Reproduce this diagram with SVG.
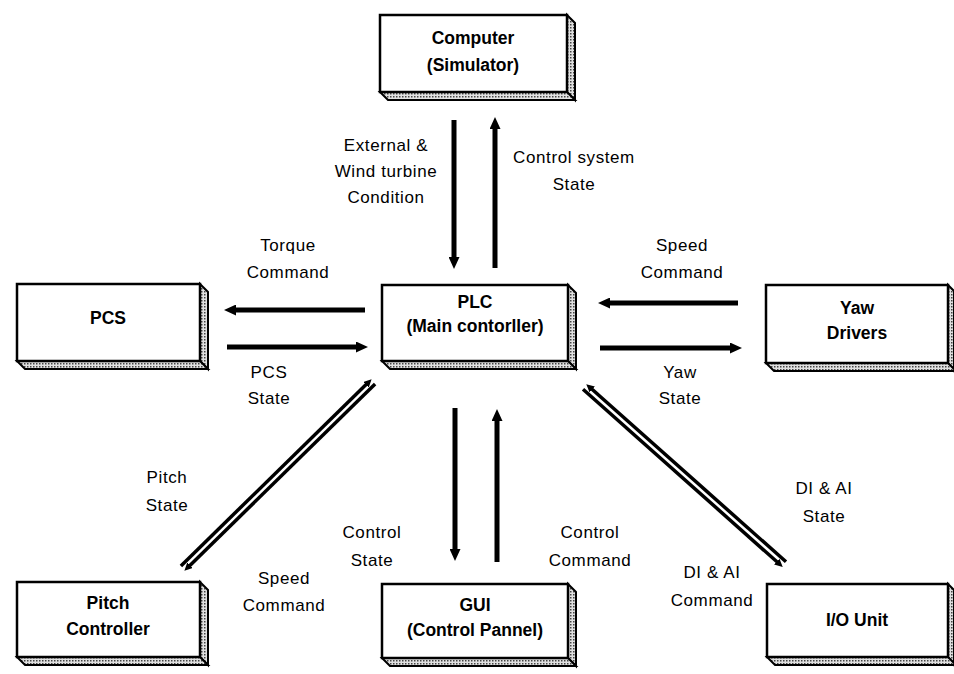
<svg xmlns="http://www.w3.org/2000/svg" width="954" height="674" viewBox="0 0 954 674">
<style>
.face{fill:#fff;stroke:#000;stroke-width:2.5}
.side{fill:url(#stip);stroke:#000;stroke-width:2}
.bt{font-family:"Liberation Sans",Arial,sans-serif;font-weight:bold;font-size:17.5px;text-anchor:middle;fill:#000}
.lb{font-family:"Liberation Sans",Arial,sans-serif;font-size:17px;letter-spacing:0.6px;text-anchor:middle;fill:#000}
.arr{stroke:#000;stroke-width:5;fill:none;marker-end:url(#ah)}
.dl{stroke:#000;stroke-width:3.5;fill:none;marker-end:url(#sh)}
</style>
<defs>
<pattern id="stip" width="3" height="3" patternUnits="userSpaceOnUse">
<rect width="3" height="3" fill="#e0e0e0"/>
<rect width="1.5" height="1.5" fill="#444"/>
</pattern>
<marker id="ah" markerUnits="userSpaceOnUse" markerWidth="12" markerHeight="11" refX="2" refY="5.5" orient="auto">
<path d="M0,0 L12,5.5 L0,11 z" fill="#000"/>
</marker>
<marker id="sh" markerUnits="userSpaceOnUse" markerWidth="8" markerHeight="8" refX="1" refY="4" orient="auto">
<path d="M0,0 L8,4 L0,8 z" fill="#000"/>
</marker>
</defs>

<g id="computer">
<polygon class="side" points="567,15 575,23 575,100 567,92"/>
<polygon class="side" points="380,92 567,92 575,100 388,100"/>
<rect class="face" x="380" y="15" width="187" height="77"/>
<text class="bt" x="473" y="44">Computer</text>
<text class="bt" x="473" y="71">(Simulator)</text>
</g>

<g id="pcs">
<polygon class="side" points="200,284 208,292 208,369 200,361"/>
<polygon class="side" points="17,361 200,361 208,369 25,369"/>
<rect class="face" x="17" y="284" width="183" height="77"/>
<text class="bt" x="108" y="324">PCS</text>
</g>

<g id="plc">
<polygon class="side" points="568,285 576,293 576,369 568,361"/>
<polygon class="side" points="382,361 568,361 576,369 390,369"/>
<rect class="face" x="382" y="285" width="186" height="76"/>
<text class="bt" x="475" y="308">PLC</text>
<text class="bt" x="475" y="332">(Main contorller)</text>
</g>

<g id="yaw">
<polygon class="side" points="948,285 954,291 954,371 948,363"/>
<polygon class="side" points="766,363 948,363 956,371 774,371"/>
<rect class="face" x="766" y="285" width="182" height="78"/>
<text class="bt" x="857" y="314">Yaw</text>
<text class="bt" x="857" y="339">Drivers</text>
</g>

<g id="pitch">
<polygon class="side" points="200,582 208,590 208,665 200,657"/>
<polygon class="side" points="17,657 200,657 208,665 25,665"/>
<rect class="face" x="17" y="582" width="183" height="75"/>
<text class="bt" x="108" y="609">Pitch</text>
<text class="bt" x="108" y="635">Controller</text>
</g>

<g id="gui">
<polygon class="side" points="568,584 576,592 576,666 568,658"/>
<polygon class="side" points="382,658 568,658 576,666 390,666"/>
<rect class="face" x="382" y="584" width="186" height="74"/>
<text class="bt" x="475" y="611">GUI</text>
<text class="bt" x="475" y="636">(Control Pannel)</text>
</g>

<g id="io">
<polygon class="side" points="948,584 954,590 954,665 948,657"/>
<polygon class="side" points="767,657 948,657 956,665 775,665"/>
<rect class="face" x="767" y="584" width="181" height="73"/>
<text class="bt" x="857" y="626">I/O Unit</text>
</g>

<g id="connectors">
<line class="arr" x1="454" y1="120" x2="454" y2="259"/>
<line class="arr" x1="495" y1="268" x2="495" y2="127"/>
<line class="arr" x1="365" y1="310" x2="234" y2="310"/>
<line class="arr" x1="227" y1="347" x2="358" y2="347"/>
<line class="arr" x1="738" y1="303" x2="608" y2="303"/>
<line class="arr" x1="600" y1="348" x2="732" y2="348"/>
<line class="arr" x1="455" y1="408" x2="455" y2="551"/>
<line class="arr" x1="497" y1="562" x2="497" y2="419"/>
<line class="dl" x1="180.9" y1="565.9" x2="366.6" y2="384.1"/>
<line class="dl" x1="375.1" y1="384.1" x2="189.4" y2="565.9"/>
<line class="dl" x1="786.0" y1="561.8" x2="591.5" y2="388.8"/>
<line class="dl" x1="583.0" y1="389.2" x2="777.5" y2="562.3"/>
</g>

<g id="labels">
<text class="lb" x="386" y="151">External &amp;</text>
<text class="lb" x="386" y="177">Wind turbine</text>
<text class="lb" x="386" y="203">Condition</text>
<text class="lb" x="574" y="163">Control system</text>
<text class="lb" x="574" y="190">State</text>
<text class="lb" x="288" y="251">Torque</text>
<text class="lb" x="288" y="278">Command</text>
<text class="lb" x="269" y="378">PCS</text>
<text class="lb" x="269" y="404">State</text>
<text class="lb" x="682" y="251">Speed</text>
<text class="lb" x="682" y="278">Command</text>
<text class="lb" x="680" y="378">Yaw</text>
<text class="lb" x="680" y="404">State</text>
<text class="lb" x="167" y="483">Pitch</text>
<text class="lb" x="167" y="511">State</text>
<text class="lb" x="284" y="584">Speed</text>
<text class="lb" x="284" y="611">Command</text>
<text class="lb" x="372" y="538">Control</text>
<text class="lb" x="372" y="566">State</text>
<text class="lb" x="590" y="538">Control</text>
<text class="lb" x="590" y="566">Command</text>
<text class="lb" x="824" y="494">DI &amp; AI</text>
<text class="lb" x="824" y="522">State</text>
<text class="lb" x="712" y="578">DI &amp; AI</text>
<text class="lb" x="712" y="606">Command</text>
</g>
</svg>
